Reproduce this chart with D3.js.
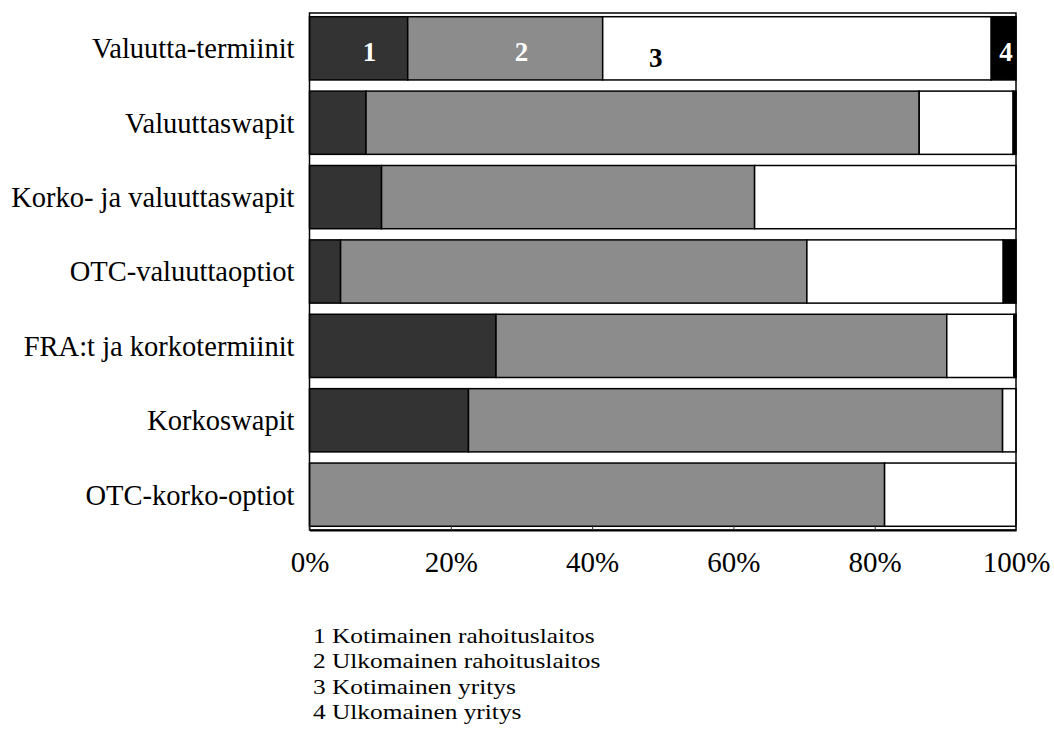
<!DOCTYPE html>
<html>
<head>
<meta charset="utf-8">
<script src="https://cdn.jsdelivr.net/npm/d3@7"></script>
<style>
  html, body { margin: 0; padding: 0; background: #fff; }
  svg { display: block; }
</style>
</head>
<body>
<svg id="chart" width="1054" height="744"></svg>
<script>
// ---- Data ----
const categories = [
  "Valuutta-termiinit",
  "Valuuttaswapit",
  "Korko- ja valuuttaswapit",
  "OTC-valuuttaoptiot",
  "FRA:t ja korkotermiinit",
  "Korkoswapit",
  "OTC-korko-optiot"
];
const seriesKeys = ["s1", "s2", "s3", "s4"];
const seriesNames = [
  "1 Kotimainen rahoituslaitos",
  "2 Ulkomainen rahoituslaitos",
  "3 Kotimainen yritys",
  "4 Ulkomainen yritys"
];
const segmentNumbers = ["1", "2", "3", "4"];
const kotimainenRahoituslaitos = [13.9, 8.0, 10.2, 4.4, 26.4, 22.5, 0];
const ulkomainenRahoituslaitos = [27.6, 78.3, 52.8, 66.0, 63.8, 75.6, 81.4];
const kotimainenYritys        = [55.0, 13.3, 37.0, 27.8, 9.5, 1.9, 18.6];
const ulkomainenYritys        = [3.5, 0.4, 0, 1.8, 0.3, 0, 0];
// positions (in % units) of the in-bar number labels on the first bar
const segmentLabelAt = [8.5, 30.0, 49.0, 98.6];
const tickValues = [0, 20, 40, 60, 80, 100];

// ---- Styles ----
const fills = ["#333333", "#8c8c8c", "#ffffff", "#000000"];
const labelColors = ["#ffffff", "#ffffff", "#000000", "#ffffff"];
const labelDy = [13, 13, 19, 13];
const serif = "'Liberation Serif', 'Times New Roman', serif";

const rows = categories.map((c, i) => ({
  cat: c,
  s1: kotimainenRahoituslaitos[i],
  s2: ulkomainenRahoituslaitos[i],
  s3: kotimainenYritys[i],
  s4: ulkomainenYritys[i]
}));
const stacked = d3.stack().keys(seriesKeys)(rows);

const svg = d3.select("#chart");
const plotLeft = 309.5, plotRight = 1016, plotTop = 13, plotBottom = 530;

const x = d3.scaleLinear().domain([0, 100]).range([plotLeft, plotRight]);
const y = d3.scaleBand().domain(categories).range([plotTop, plotBottom])
  .paddingInner(0.15).paddingOuter(0.05);

// bars
const layers = svg.append("g").selectAll("g").data(stacked).join("g")
  .attr("fill", (d, i) => fills[i]);
layers.selectAll("rect").data(d => d.filter(p => p[1] - p[0] > 0)).join("rect")
  .attr("x", p => x(p[0]))
  .attr("y", p => y(p.data.cat))
  .attr("width", p => x(p[1]) - x(p[0]))
  .attr("height", y.bandwidth())
  .attr("stroke", "#000")
  .attr("stroke-width", 1.5);

// frame
svg.append("rect")
  .attr("x", plotLeft).attr("y", plotTop)
  .attr("width", plotRight - plotLeft).attr("height", plotBottom - plotTop)
  .attr("fill", "none").attr("stroke", "#000").attr("stroke-width", 1.5);

// x axis
const xAxis = svg.append("g")
  .attr("transform", `translate(0,${plotBottom})`)
  .call(d3.axisBottom(x).tickValues(tickValues).tickFormat(d => d + "%")
    .tickSizeInner(-5).tickSizeOuter(0).tickPadding(21));
xAxis.select(".domain").attr("stroke", "#000").attr("stroke-width", 2);
xAxis.selectAll(".tick line").attr("stroke", "#333");
xAxis.selectAll(".tick text")
  .attr("font-family", serif).attr("font-size", 29).attr("fill", "#000");

// y labels
svg.append("g").selectAll("text").data(categories).join("text")
  .attr("x", plotLeft - 15)
  .attr("y", d => y(d) + y.bandwidth() / 2)
  .attr("dy", "0.35em")
  .attr("text-anchor", "end")
  .attr("font-family", serif).attr("font-size", 28.5)
  .attr("fill", "#000")
  .text(d => d);

// segment number labels on first bar
svg.append("g").selectAll("text").data(segmentNumbers).join("text")
  .attr("x", (d, i) => x(segmentLabelAt[i]))
  .attr("y", (d, i) => y(categories[0]) + y.bandwidth() / 2 + labelDy[i])
  .attr("text-anchor", "middle")
  .attr("font-family", serif).attr("font-size", 27).attr("font-weight", "bold")
  .attr("fill", (d, i) => labelColors[i])
  .text(d => d);

// legend (text list)
svg.append("g").selectAll("text").data(seriesNames).join("text")
  .attr("transform", (d, i) => `translate(313,${643 + i * 25.3}) scale(1.18,1)`)
  .attr("font-family", serif).attr("font-size", 21.5)
  .attr("fill", "#000")
  .text(d => d);
</script>
</body>
</html>
